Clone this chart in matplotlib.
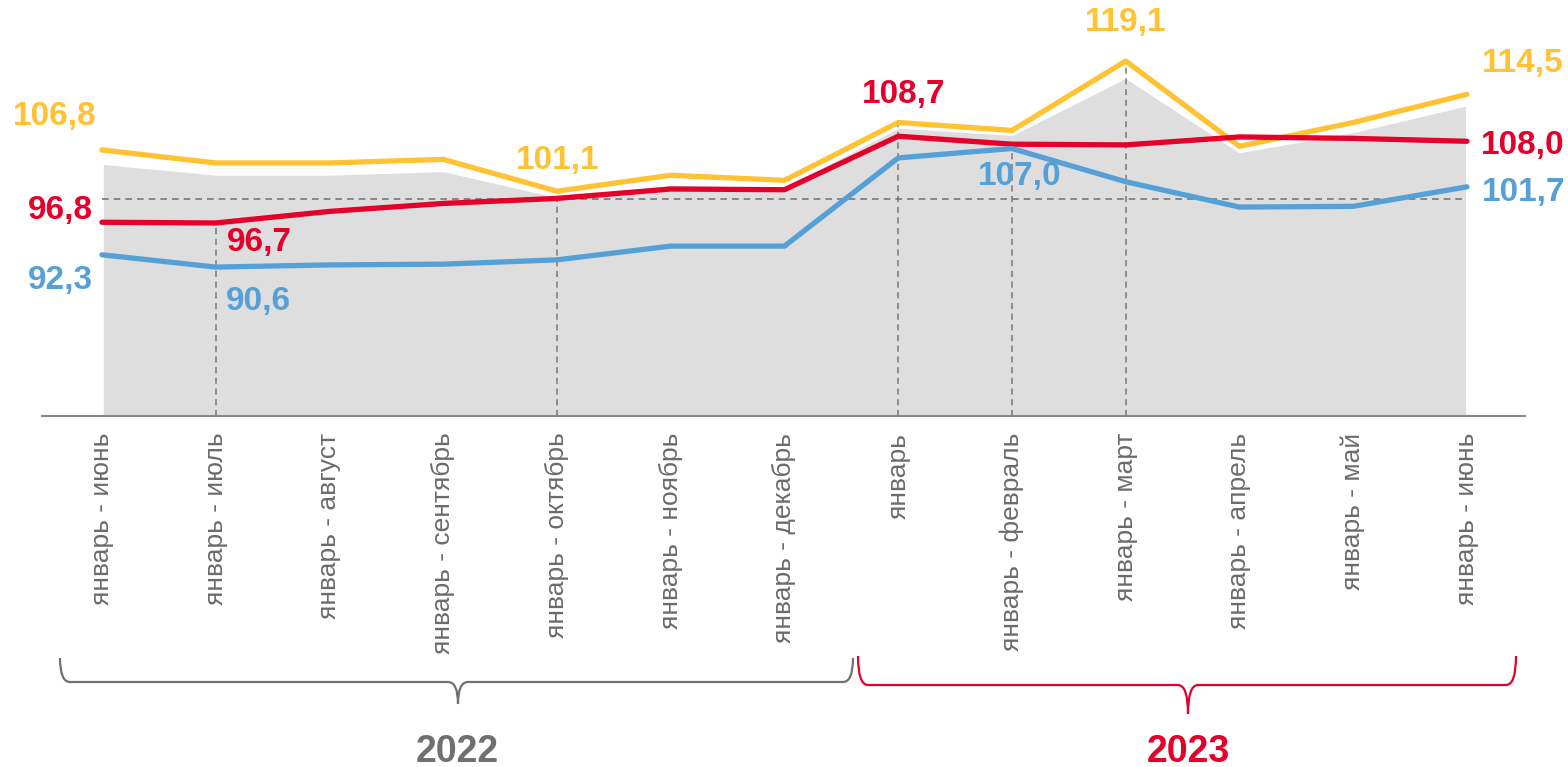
import matplotlib.pyplot as plt
from matplotlib.path import Path
from matplotlib.patches import PathPatch

plt.rcParams["font.family"] = ["Liberation Sans", "DejaVu Sans"]

W, H = 1568, 767

periods = [
    "январь - июнь", "январь - июль", "январь - август", "январь - сентябрь",
    "январь - октябрь", "январь - ноябрь", "январь - декабрь",
    "январь", "январь - февраль", "январь - март", "январь - апрель",
    "январь - май", "январь - июнь",
]
yellow = [106.8, 105.0, 105.0, 105.5, 101.1, 103.3, 102.6, 110.6, 109.5, 119.1, 107.3, 110.6, 114.5]
red = [96.8, 96.7, 98.3, 99.4, 100.1, 101.4, 101.3, 108.7, 107.6, 107.5, 108.6, 108.4, 108.0]
blue = [92.3, 90.6, 90.9, 91.0, 91.6, 93.5, 93.5, 105.7, 107.0, 102.4, 98.9, 99.0, 101.7]
grey = [105.0, 103.5, 103.5, 104.0, 100.4, 102.1, 101.8, 110.0, 109.0, 116.9, 106.6, 109.4, 113.1]

YELLOW = "#FFC233"
RED = "#E4002B"
BLUE = "#56A0D8"
GREY_TXT = "#6b6b6b"

# (series, index, label, dx px, dy px)
labels = [
    (yellow, 0, "106,8", -47, 33),
    (red, 0, "96,8", -42, 12),
    (blue, 0, "92,3", -42, -26),
    (red, 1, "96,7", 44, -20),
    (blue, 1, "90,6", 43, -34),
    (yellow, 4, "101,1", 1, 31),
    (red, 7, "108,7", 5, 42),
    (blue, 8, "107,0", 8, -28),
    (yellow, 9, "119,1", 0, 39),
    (yellow, 12, "114,5", 56, 31),
    (red, 12, "108,0", 56, -4),
    (blue, 12, "101,7", 57, -6),
]
label_colors = {id(yellow): YELLOW, id(red): RED, id(blue): BLUE}
# dashed drop lines: (index, series to start from)
drops = [(1, red), (4, yellow), (7, yellow), (8, blue), (9, yellow)]

fig = plt.figure(figsize=(W / 100, H / 100), dpi=100)
ax = fig.add_axes([42 / W, (H - 416) / H, (1525 - 42) / W, 368.7 / H])
x = list(range(len(periods)))

ax.fill_between(x, 70, grey, color="#DEDEDE", edgecolor="white", linewidth=2, zorder=1)
ax.hlines(100, 0, 12, colors="#777777", linestyles=(0, (4, 3)), linewidth=1.2, zorder=2)
for i, s in drops:
    ax.vlines(i, 70, s[i], colors="#777777", linestyles=(0, (4, 3)), linewidth=1.1, zorder=2)

ax.plot(x, yellow, color=YELLOW, linewidth=3.8, solid_capstyle="round", zorder=3)
ax.plot(x, red, color=RED, linewidth=3.8, solid_capstyle="round", zorder=4)
ax.plot(x, blue, color=BLUE, linewidth=3.8, solid_capstyle="round", zorder=5)

for s, i, txt, dx, dy in labels:
    ax.annotate(txt, (i, s[i]), xytext=(dx, dy), textcoords="offset pixels",
                ha="center", va="center", fontsize=24, fontweight="bold",
                color=label_colors[id(s)], zorder=6, annotation_clip=False)

ax.set_xlim(-0.527, 12.51)
ax.set_ylim(70, 121)
ax.set_yticks([])
ax.set_xticks(x)
ax.set_xticklabels(periods, rotation=90, fontsize=19, color=GREY_TXT, va="top", ha="center")
ax.tick_params(axis="x", length=0, pad=12)
for side in ["top", "right", "left"]:
    ax.spines[side].set_visible(False)
ax.spines["bottom"].set_color("#888888")
ax.spines["bottom"].set_linewidth(1.5)


def brace(x0, x1, xm, ytop, yline, ytip, color):
    r = 10
    verts = [
        (x0, ytop), (x0, yline), (x0 + r, yline),
        (xm - r, yline), (xm, yline), (xm, ytip),
        (xm, yline), (xm + r, yline),
        (x1 - r, yline), (x1, yline), (x1, ytop),
    ]
    codes = [Path.MOVETO, Path.CURVE3, Path.CURVE3,
             Path.LINETO, Path.CURVE3, Path.CURVE3,
             Path.CURVE3, Path.CURVE3,
             Path.LINETO, Path.CURVE3, Path.CURVE3]
    verts = [(vx / W, (H - vy) / H) for vx, vy in verts]
    fig.add_artist(PathPatch(Path(verts, codes), facecolor="none", edgecolor=color,
                             linewidth=1.6, transform=fig.transFigure))


brace(60, 853, 458, 658, 682, 704, "#707070")
brace(858, 1516, 1188, 656, 685, 714, RED)

fig.text(457 / W, (H - 752) / H, "2022", ha="center", va="center", fontsize=27,
         fontweight="bold", color="#707070")
fig.text(1188 / W, (H - 752) / H, "2023", ha="center", va="center", fontsize=27,
         fontweight="bold", color=RED)

fig.savefig("out.png", dpi=100)
